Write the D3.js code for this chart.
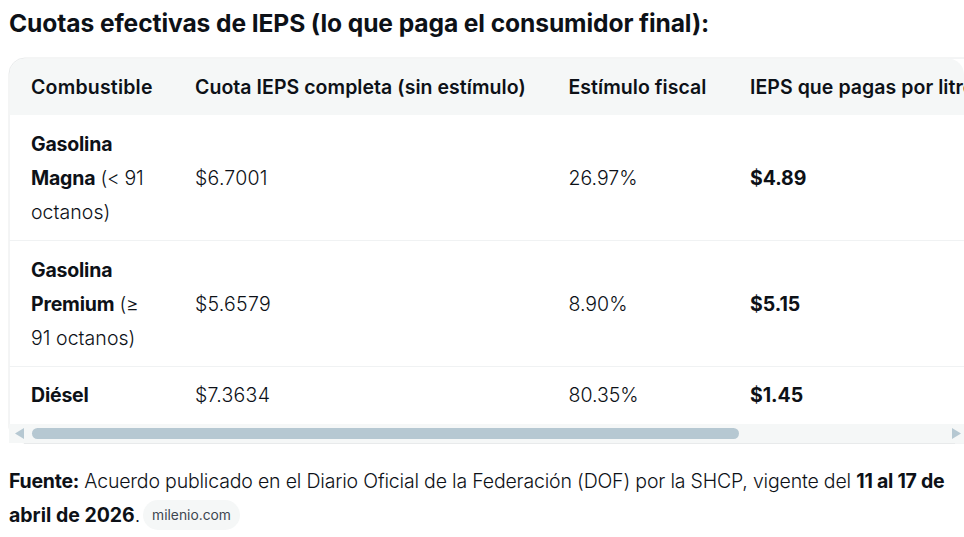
<!DOCTYPE html>
<html>
<head>
<meta charset="utf-8">
<style>
    body { margin: 0; background: #fff; overflow: hidden; }
    svg { display: block; }
    text { font-family: "Inter", sans-serif; fill: #0d1117; }
</style>
</head>
<body>
<svg id="chart" width="964" height="537"></svg>
<script src="https://cdnjs.cloudflare.com/ajax/libs/d3/7.8.0/d3.min.js"></script>
<script>
    const titleText = "Cuotas efectivas de IEPS (lo que paga el consumidor final):";
    const columns = ["Combustible", "Cuota IEPS completa (sin estímulo)", "Estímulo fiscal", "IEPS que pagas por litro"];
    const fuels = [
        [[["Gasolina", 1]], [["Magna", 1], [" (< 91", 0]], [["octanos)", 0]]],
        [[["Gasolina", 1]], [["Premium", 1], [" (≥", 0]], [["91 octanos)", 0]]],
        [[["Diésel", 1]]]
    ];
    const fullQuota = [6.7001, 5.6579, 7.3634];
    const stimulus = [26.97, 8.90, 80.35];
    const paidPerLitre = [4.89, 5.15, 1.45];
    const sourceLines = [
        [["Fuente:", 1], [" Acuerdo publicado en el Diario Oficial de la Federación (DOF) por la SHCP, vigente del ", 0], ["11 al 17 de", 1]],
        [["abril de 2026", 1], [".", 0]]
    ];
    const sourceTag = "milenio.com";

    const svg = d3.select("#chart");
    const colX = [31, 195, 568.5, 750];
    const headSpacing = [0.2, 0.05, 0.05, 0.05];
    const rowY = [178, 304, 395];
    const lineGap = 34;

    // Card
    svg.append("rect").attr("x", 9).attr("y", 58).attr("width", 975).attr("height", 385)
        .attr("rx", 16).attr("fill", "#fff").attr("stroke", "#e8eaeb");
    svg.append("clipPath").attr("id", "card").append("rect")
        .attr("x", 9.5).attr("y", 58.5).attr("width", 954.5).attr("height", 384).attr("rx", 16);
    const card = svg.append("g").attr("clip-path", "url(#card)");

    card.append("path").attr("fill", "#f5f7f7")
        .attr("d", "M9.5 58.5H964V115H9.5Z");
    card.selectAll("line.sep").data([240.5, 366.5]).join("line").attr("class", "sep")
        .attr("x1", 9).attr("x2", 964).attr("y1", d => d).attr("y2", d => d)
        .attr("stroke", "#f0f2f3");

    // Scrollbar, square track that sits over the rounded card corners
    svg.append("rect").attr("x", 9).attr("y", 424).attr("width", 955).attr("height", 19).attr("fill", "#f5f7f7");
    svg.append("line").attr("x1", 24).attr("x2", 955).attr("y1", 443.5).attr("y2", 443.5).attr("stroke", "#e8eaeb");
    svg.append("rect").attr("x", 32).attr("y", 428).attr("width", 707).attr("height", 11).attr("rx", 5.5).attr("fill", "#b6c8d2");
    svg.append("path").attr("fill", "#b6c8d2").attr("d", "M24 428V439L15 433.5Z");
    svg.append("path").attr("fill", "#b6c8d2").attr("d", "M952 428V439L961 433.5Z");

    // Rich text: runs of [string, bold], with separate tracking for bold and regular
    function addRuns(parent, runs, x, y, size, boldSpacing, regSpacing) {
        const t = parent.append("text").attr("x", x).attr("y", y)
            .attr("font-size", size)
            .attr("xml:space", "preserve").style("white-space", "pre");
        t.selectAll("tspan").data(runs).join("tspan")
            .attr("font-weight", d => d[1] ? 700 : 300)
            .attr("letter-spacing", d => d[1] ? boldSpacing : regSpacing)
            .text(d => d[0]);
        return t;
    }

    svg.append("text").attr("x", 9).attr("y", 31.5).attr("font-size", 24.6).attr("font-weight", 700)
        .attr("letter-spacing", -0.1).text(titleText);

    card.selectAll("text.head").data(columns).join("text").attr("class", "head")
        .attr("x", (d, i) => colX[i]).attr("y", 94).attr("font-size", 19.5).attr("font-weight", 600)
        .attr("letter-spacing", (d, i) => headSpacing[i])
        .text(d => d);

    fuels.forEach((lines, r) => {
        lines.forEach((runs, l) => {
            const y = rowY[r] + 7 + (l - (lines.length - 1) / 2) * lineGap;
            addRuns(card, runs, colX[0], y, 19.5, -0.2, runs.length > 1 ? -0.3 : 0.05);
        });
    });

    const fmtQuota = d3.format("$.4f");
    const fmtPct = d => d3.format(".2f")(d) + "%";
    const fmtPaid = d3.format("$.2f");

    rowY.forEach((y, r) => {
        addRuns(card, [[fmtQuota(fullQuota[r]), 0]], colX[1], y + 7, 19.5, 0, 0.25);
        addRuns(card, [[fmtPct(stimulus[r]), 0]], colX[2], y + 7, 19.5, 0, 0);
        addRuns(card, [[fmtPaid(paidPerLitre[r]), 1]], colX[3], y + 7, 19.5, -0.05, 0);
    });

    addRuns(svg, sourceLines[0], 9, 488, 19.5, -0.25, -0.18);
    addRuns(svg, sourceLines[1], 9, 522, 19.5, 0, 0);

    svg.append("rect").attr("x", 143).attr("y", 500).attr("width", 97).attr("height", 30)
        .attr("rx", 15).attr("fill", "#f5f7f7");
    svg.append("text").attr("x", 191.5).attr("y", 520).attr("text-anchor", "middle")
        .attr("font-size", 13.8).style("fill", "#3d4650").text(sourceTag);
</script>
</body>
</html>
